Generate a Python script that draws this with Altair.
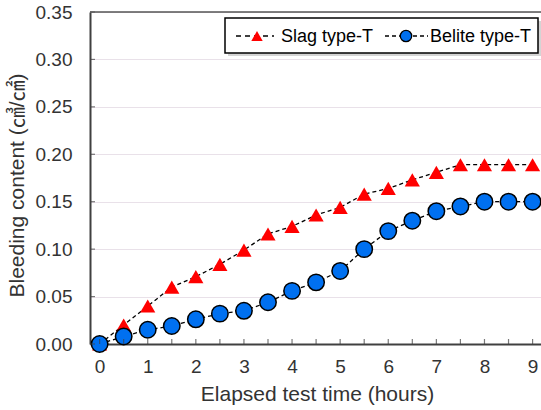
import altair as alt
import pandas as pd

# ---- data ----
hours = [0, 0.5, 1, 1.5, 2, 2.5, 3, 3.5, 4, 4.5, 5, 5.5, 6, 6.5, 7, 7.5, 8, 8.5, 9]
slag = [0.000, 0.020, 0.040, 0.060, 0.071, 0.084, 0.099, 0.116, 0.124, 0.136, 0.144,
        0.158, 0.164, 0.173, 0.181, 0.189, 0.189, 0.189, 0.189]
belite = [0.000, 0.008, 0.015, 0.019, 0.026, 0.032, 0.035, 0.044, 0.056, 0.065, 0.077,
          0.100, 0.119, 0.130, 0.140, 0.145, 0.150, 0.150, 0.150]
series_names = ["Slag type-T", "Belite type-T"]
x_tick_labels = [0, 1, 2, 3, 4, 5, 6, 7, 8, 9]
x_minor_ticks = [0, 0.5, 1, 1.5, 2, 2.5, 3, 3.5, 4, 4.5, 5, 5.5, 6, 6.5, 7, 7.5, 8, 8.5, 9]
y_tick_labels = [0.00, 0.05, 0.10, 0.15, 0.20, 0.25, 0.30, 0.35]

W, H = 451, 332
FONT = "Liberation Sans, Arial, Noto Sans CJK KR, sans-serif"
TXT = "#333333"

df_slag = pd.DataFrame({"t": hours, "v": slag})
df_bel = pd.DataFrame({"t": hours, "v": belite})
df_xt = pd.DataFrame({"t": x_minor_ticks})
df_yt = pd.DataFrame({"v": y_tick_labels})

xs = alt.Scale(domain=[-0.2, 9.175], nice=False, zero=False)
ys = alt.Scale(domain=[0, 0.35], nice=False)

x_axis = alt.Axis(values=x_tick_labels, format="d", grid=False, ticks=False, tickSize=0,
                  labelFont=FONT, labelFontSize=19, labelColor=TXT, labelPadding=28,
                  labelBaseline="alphabetic",
                  domainColor="#404040", domainWidth=2,
                  title="Elapsed test time (hours)", titleFont=FONT, titleFontSize=21,
                  titleFontWeight="normal", titleColor=TXT, titleX=227, titleY=56,
                  titleBaseline="alphabetic", titleAlign="center")
y_axis = alt.Axis(values=y_tick_labels, format=".2f", grid=True, gridColor="#e9e1e9",
                  gridWidth=1, ticks=False, tickSize=0,
                  labelFont=FONT, labelFontSize=19, labelColor=TXT, labelPadding=18,
                  domainColor="#404040", domainWidth=2,
                  title="Bleeding content (㎤/㎠)", titleFont=FONT, titleFontSize=21,
                  titleFontWeight="normal", titleColor=TXT, titleX=-73, titleY=173,
                  titleAngle=270, titleBaseline="middle", titleAlign="center")

base_slag = alt.Chart(df_slag).encode(
    x=alt.X("t:Q", scale=xs, axis=x_axis),
    y=alt.Y("v:Q", scale=ys, axis=y_axis),
)
slag_line = base_slag.mark_line(color="black", strokeWidth=1.3, strokeDash=[4, 3])
slag_pts = base_slag.mark_point(shape="triangle-up", filled=True, color="#ff0000",
                                size=230, opacity=1)

base_bel = alt.Chart(df_bel).encode(x=alt.X("t:Q", scale=xs), y=alt.Y("v:Q", scale=ys))
bel_line = base_bel.mark_line(color="black", strokeWidth=1.3, strokeDash=[4, 3])
bel_pts = base_bel.mark_point(shape="circle", filled=True, fill="#0070f0", stroke="black",
                              strokeWidth=1.5, size=270, opacity=1)

# inward ticks
xticks = alt.Chart(df_xt).mark_tick(orient="vertical", color="#404040", thickness=1.2,
                                    size=5).encode(
    x=alt.X("t:Q", scale=xs), y=alt.value(H - 2.5))
yticks = alt.Chart(df_yt).mark_tick(orient="horizontal", color="#404040", thickness=1.2,
                                    size=5).encode(
    y=alt.Y("v:Q", scale=ys), x=alt.value(2.5))

# top frame line
one = pd.DataFrame({"k": [0]})
top_rule = alt.Chart(one).mark_rule(color="#555555", strokeWidth=1.5).encode(
    x=alt.value(0), x2=alt.value(W), y=alt.value(0))

# legend (manual)
leg_shadow = alt.Chart(one).mark_rect(color="#b0b0b0", opacity=0.55).encode(
    x=alt.value(138), x2=alt.value(451), y=alt.value(9), y2=alt.value(44))
leg_box = alt.Chart(one).mark_rect(fill="white", stroke="black", strokeWidth=1.5).encode(
    x=alt.value(135), x2=alt.value(448), y=alt.value(6), y2=alt.value(41))
leg_line1 = alt.Chart(one).mark_rule(color="black", strokeWidth=1.3, strokeDash=[5, 4]).encode(
    x=alt.value(146), x2=alt.value(184), y=alt.value(24))
leg_sym1 = alt.Chart(one).mark_point(shape="triangle-up", filled=True, color="#ff0000",
                                     size=130, opacity=1).encode(
    x=alt.value(167), y=alt.value(24))
leg_txt1 = alt.Chart(one).mark_text(align="left", baseline="alphabetic", font=FONT,
                                    fontSize=18, color="black").encode(
    x=alt.value(191), y=alt.value(30), text=alt.value(series_names[0]))
leg_line2 = alt.Chart(one).mark_rule(color="black", strokeWidth=1.3, strokeDash=[4, 3]).encode(
    x=alt.value(295), x2=alt.value(338), y=alt.value(24))
leg_sym2 = alt.Chart(one).mark_point(shape="circle", filled=True, fill="#0070f0",
                                     stroke="black", strokeWidth=1.3, size=130,
                                     opacity=1).encode(
    x=alt.value(316), y=alt.value(24))
leg_txt2 = alt.Chart(one).mark_text(align="left", baseline="alphabetic", font=FONT,
                                    fontSize=18, color="black").encode(
    x=alt.value(340), y=alt.value(30), text=alt.value(series_names[1]))

chart = alt.layer(
    slag_line, slag_pts, bel_line, bel_pts, xticks, yticks, top_rule,
    leg_shadow, leg_box, leg_line1, leg_sym1, leg_txt1, leg_line2, leg_sym2, leg_txt2,
).properties(
    width=W, height=H,
    autosize=alt.AutoSizeParams(type="none"),
    padding={"left": 90, "top": 12, "right": 0, "bottom": 66},
    background="white",
).configure_view(strokeOpacity=0)

chart.save("out.html", embed_options={"renderer": "svg", "actions": False})
